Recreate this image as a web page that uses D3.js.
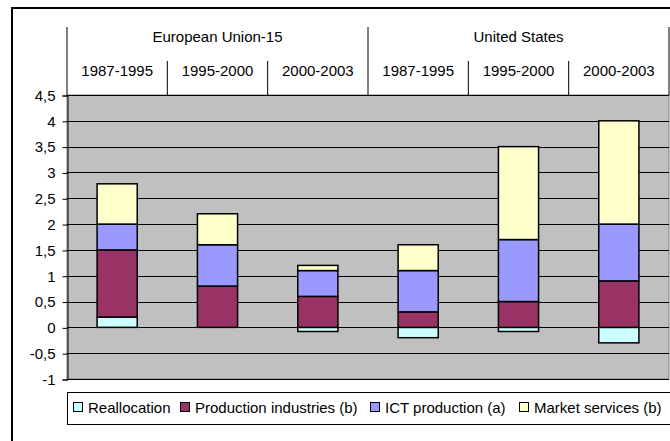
<html>
<head>
  <meta charset="utf-8">
  <title>Stacked contributions</title>
  <script src="https://cdnjs.cloudflare.com/ajax/libs/d3/7.8.5/d3.min.js"></script>
  <style>
    body { margin: 0; background: #fff; }
    text { font-family: "Liberation Sans", Arial, sans-serif; fill: #000; }
  </style>
</head>
<body>
  <svg></svg>
  <script>
// data
var groups = ["European Union-15", "United States"];
var periods = ["1987-1995", "1995-2000", "2000-2003", "1987-1995", "1995-2000", "2000-2003"];
var seriesNames = ["Reallocation", "Production industries (b)", "ICT production (a)", "Market services (b)"];
var seriesColors = ["#ccffff", "#993366", "#9999ff", "#ffffcc"];
var reallocation = [0.2, 0, -0.08, -0.2, -0.08, -0.3];
var production = [1.3, 0.8, 0.6, 0.3, 0.5, 0.9];
var ictProduction = [0.5, 0.8, 0.5, 0.8, 1.2, 1.1];
var marketServices = [0.78, 0.6, 0.1, 0.5, 1.8, 2.0];
var yTicks = [-1, -0.5, 0, 0.5, 1, 1.5, 2, 2.5, 3, 3.5, 4, 4.5];

var w = 670, h = 441;
var svg = d3.select("svg").attr("width", w).attr("height", h);

var margin = {left: 67, right: 1, top: 95, bottom: 62};
var fs = "15px";

// outer frame, runs off the right and bottom of the window
svg.append("rect")
  .attr("x", 12).attr("y", 8)
  .attr("width", 700).attr("height", 500)
  .attr("fill", "#fff").attr("stroke", "#000").attr("stroke-width", 2);

var x = d3.scaleBand()
  .domain(d3.range(periods.length))
  .range([margin.left, w - margin.right]);

var y = d3.scaleLinear()
  .domain([-1, 4.5])
  .range([h - margin.bottom, margin.top]);

// plot background
svg.append("rect")
  .attr("x", x.range()[0]).attr("y", y(4.5))
  .attr("width", x.range()[1] - x.range()[0])
  .attr("height", y(-1) - y(4.5))
  .attr("fill", "#c0c0c0")
  .attr("stroke", "#808080");

// gridlines
svg.append("g")
  .selectAll("line")
  .data(yTicks)
  .enter().append("line")
  .attr("x1", x.range()[0]).attr("x2", x.range()[1])
  .attr("y1", function(d) { return Math.round(y(d)) + 0.5; })
  .attr("y2", function(d) { return Math.round(y(d)) + 0.5; })
  .attr("stroke", "#000")
  .attr("stroke-width", 1);

// y axis
var yAxis = d3.axisLeft(y)
  .tickValues(yTicks)
  .tickSize(5)
  .tickPadding(7)
  .tickFormat(function(d) { return String(d).replace(".", ","); });

var ga = svg.append("g")
  .attr("transform", "translate(" + (margin.left + 0.5) + ",0.5)")
  .call(yAxis);
ga.select(".domain").attr("stroke", "#000");
ga.selectAll(".tick line").attr("stroke", "#000");
ga.selectAll(".tick text")
  .style("font-size", fs)
  .attr("fill", "#000");

// stack each category: positives upward, negatives downward from zero
var allSeries = [reallocation, production, ictProduction, marketServices];
var segments = [];
periods.forEach(function(p, i) {
  var up = 0, down = 0;
  allSeries.forEach(function(s, k) {
    var v = s[i];
    if (v === 0) return;
    if (v > 0) {
      segments.push({cat: i, k: k, y0: up, y1: up + v});
      up += v;
    } else {
      segments.push({cat: i, k: k, y0: down + v, y1: down});
      down += v;
    }
  });
});

var barw = x.bandwidth() * 0.4;
svg.append("g")
  .selectAll("rect")
  .data(segments)
  .enter().append("rect")
  .attr("x", function(d) { return x(d.cat) + (x.bandwidth() - barw) / 2; })
  .attr("y", function(d) { return y(d.y1); })
  .attr("width", barw)
  .attr("height", function(d) { return y(d.y0) - y(d.y1); })
  .attr("fill", function(d) { return seriesColors[d.k]; })
  .attr("stroke", "#000")
  .attr("stroke-width", 1.5);

// category header above the plot
var hdr = svg.append("g");
var groupTop = 27, subTop = 61;
var perGroup = periods.length / groups.length;

var subLines = d3.range(periods.length + 1);
hdr.selectAll("line.sub")
  .data(subLines)
  .enter().append("line")
  .attr("class", "sub")
  .attr("x1", function(i) { return i < periods.length ? x(i) : x.range()[1]; })
  .attr("x2", function(i) { return i < periods.length ? x(i) : x.range()[1]; })
  .attr("y1", function(i) { return i % perGroup === 0 ? groupTop : subTop; })
  .attr("y2", y(4.5))
  .attr("stroke", "#000")
  .attr("stroke-width", 1);

hdr.selectAll("text.period")
  .data(periods)
  .enter().append("text")
  .attr("class", "period")
  .attr("x", function(d, i) { return x(i) + x.bandwidth() / 2; })
  .attr("y", 75.5)
  .attr("text-anchor", "middle")
  .style("font-size", fs)
  .text(function(d) { return d; });

hdr.selectAll("text.group")
  .data(groups)
  .enter().append("text")
  .attr("class", "group")
  .attr("x", function(d, g) { return x(g * perGroup) + x.bandwidth() * perGroup / 2; })
  .attr("y", 41.5)
  .attr("text-anchor", "middle")
  .style("font-size", fs)
  .text(function(d) { return d; });

// legend
var legY = 392;
var legX = [73, 180, 370, 519];
svg.append("rect")
  .attr("x", margin.left + 0.5).attr("y", legY + 0.5)
  .attr("width", 640).attr("height", 32)
  .attr("fill", "#fff").attr("stroke", "#000");

var items = svg.append("g")
  .selectAll("g")
  .data(seriesNames)
  .enter().append("g")
  .attr("transform", function(d, k) { return "translate(" + legX[k] + ",0)"; });
items.append("rect")
  .attr("x", 0.5).attr("y", 402.5)
  .attr("width", 9).attr("height", 9)
  .attr("fill", function(d, k) { return seriesColors[k]; })
  .attr("stroke", "#000");
items.append("text")
  .attr("x", 15)
  .attr("y", 413)
  .style("font-size", fs)
  .text(function(d) { return d; });
  </script>
</body>
</html>
